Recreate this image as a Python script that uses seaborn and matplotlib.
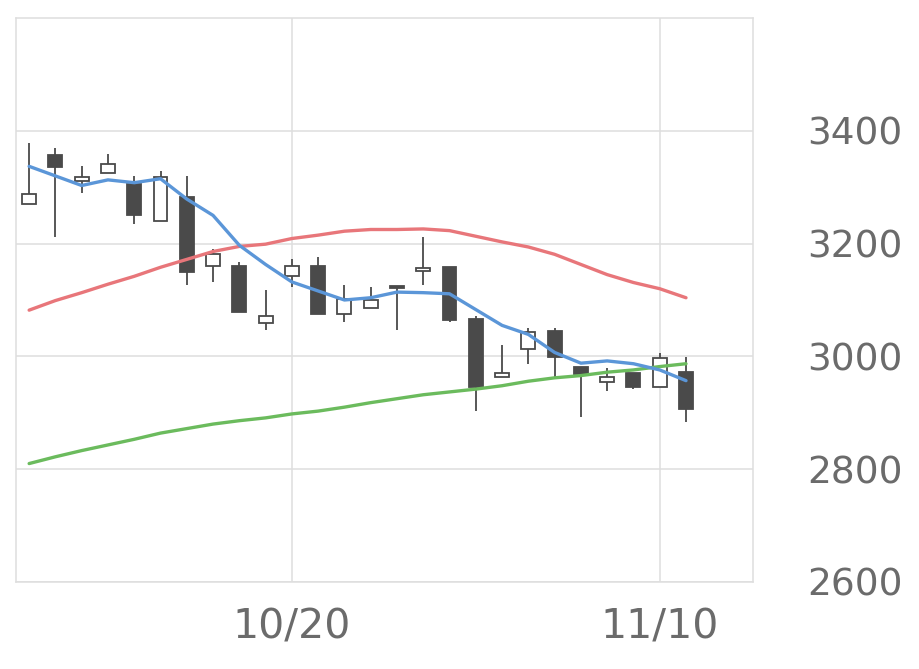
import numpy as np
import pandas as pd
import seaborn as sns
import matplotlib
matplotlib.use("Agg")
import matplotlib.pyplot as plt

# daily candles (10/6 .. 11/11)
opens = [3270, 3357, 3311, 3326, 3306, 3240, 3283, 3160, 3161, 3059,
         3142, 3161, 3076, 3086, 3125, 3151, 3158, 3066, 2963, 3014,
         3045, 2982, 2954, 2971, 2946, 2973]
closes = [3288, 3335, 3318, 3342, 3251, 3318, 3150, 3181, 3079, 3071,
          3160, 3076, 3101, 3100, 3122, 3157, 3064, 2945, 2970, 3044,
          2999, 2969, 2964, 2945, 2997, 2906]
highs = [3378, 3369, 3337, 3358, 3319, 3328, 3319, 3191, 3167, 3117,
         3173, 3176, 3126, 3123, 3125, 3212, 3158, 3072, 3021, 3050,
         3050, 2982, 2979, 2971, 3006, 2999]
lows = [3270, 3212, 3290, 3326, 3234, 3240, 3127, 3132, 3079, 3046,
        3123, 3076, 3061, 3086, 3046, 3127, 3061, 2903, 2963, 2987,
        2963, 2892, 2939, 2942, 2946, 2883]

# moving averages
ma_short = [3337, 3320, 3303, 3313, 3308, 3315, 3279, 3250, 3197, 3163,
            3132, 3116, 3100, 3104, 3114, 3113, 3111, 3083, 3055, 3039,
            3007, 2988, 2992, 2987, 2976, 2957]
ma_mid = [3082, 3099, 3113, 3128, 3142, 3158, 3172, 3186, 3195, 3199,
          3209, 3215, 3222, 3225, 3225, 3226, 3223, 3213, 3203, 3194,
          3181, 3163, 3145, 3131, 3120, 3104]
ma_long = [2810, 2822, 2833, 2843, 2853, 2864, 2872, 2880, 2886, 2891,
           2898, 2903, 2910, 2918, 2925, 2932, 2937, 2942, 2948, 2956,
           2962, 2966, 2972, 2976, 2982, 2987]

tick_pos = [10, 24]
tick_labels = ["10/20", "11/10"]

sns.set_theme(style="white")
plt.rcParams["font.family"] = ["DejaVu Sans"]

fig = plt.figure(figsize=(9.2, 6.69), dpi=100)
ax = fig.add_axes([16 / 920, 1 - 582 / 669, (753 - 16) / 920, (582 - 18) / 669])

x = np.arange(len(opens))
o = np.array(opens)
c = np.array(closes)
dark = "#4a4a4a"

ax.vlines(x, lows, highs, color=dark, linewidth=1.3, zorder=2)
up = c >= o
ax.bar(x[up], (c - o)[up], bottom=o[up], width=0.53, color="white",
       edgecolor=dark, linewidth=1.3, zorder=3)
ax.bar(x[~up], (c - o)[~up], bottom=o[~up], width=0.53, color=dark,
       edgecolor=dark, linewidth=1.3, zorder=3)

df = pd.DataFrame({"x": x, "short": ma_short, "mid": ma_mid, "long": ma_long})
sns.lineplot(data=df, x="x", y="mid", color="#e8767a", linewidth=2.4, ax=ax, zorder=4)
sns.lineplot(data=df, x="x", y="long", color="#6bbb5d", linewidth=2.4, ax=ax, zorder=4)
sns.lineplot(data=df, x="x", y="short", color="#5b96d8", linewidth=2.4, ax=ax, zorder=5)

ax.set_xlim(-0.5, 27.55)
ax.set_ylim(2600, 3600)
ax.set_xlabel("")
ax.set_ylabel("")

ax.set_xticks(tick_pos)
ax.set_xticklabels(tick_labels)
ax.set_yticks([2600, 2800, 3000, 3200, 3400])
ax.yaxis.tick_right()

ax.grid(True, color="#dedede", linewidth=1.1, zorder=0)
ax.set_axisbelow(True)
for s in ax.spines.values():
    s.set_color("#dedede")
    s.set_linewidth(1.1)

ax.tick_params(axis="x", length=11, width=1, color="#cdd5e3", pad=7,
               labelsize=29.5, labelcolor="#6b6b6b")
ax.tick_params(axis="y", length=0, pad=39, labelsize=27, labelcolor="#6b6b6b")

fig.savefig("out.png", dpi=100)
